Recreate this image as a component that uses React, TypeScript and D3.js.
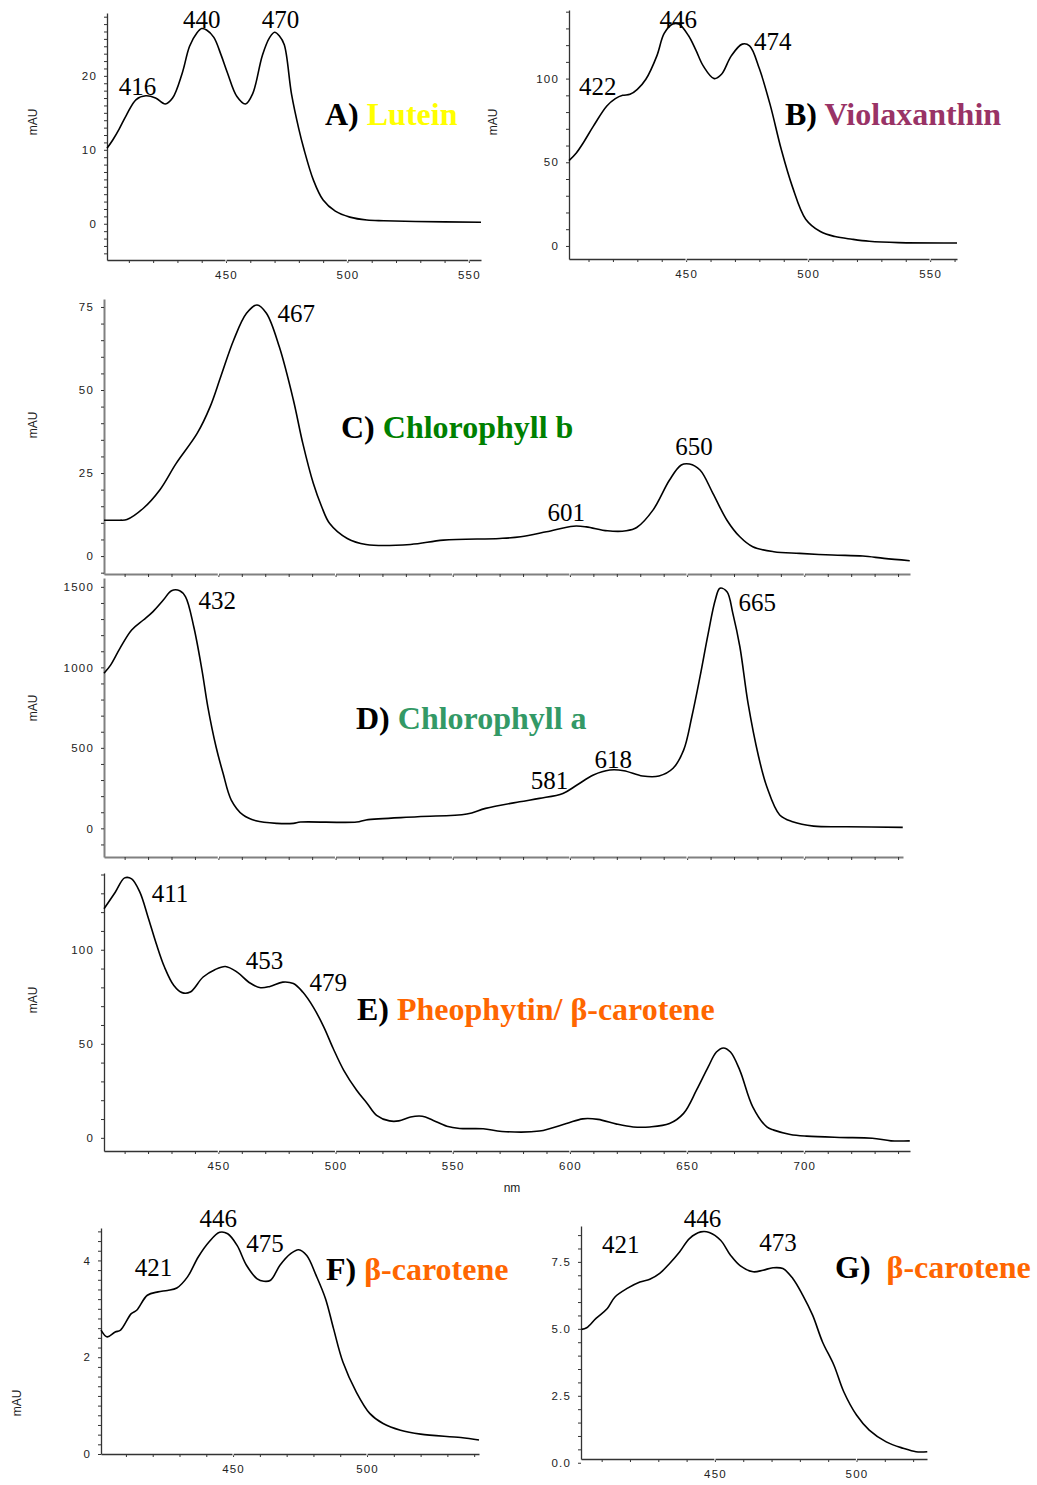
import * as d3 from 'd3'
import { useEffect, useRef } from 'react'

type Pt = [number, number]

// spectra: [wavelength nm, mAU]
const luteinSpectrum: Pt[] = [
  [401, 10.2], [403.5, 11.4], [406, 12.8], [409, 14.7], [413, 16.8], [417, 17.3], [421, 17.0],
  [425, 16.2], [428, 17.0], [432, 20.4], [435, 24.0], [438, 25.8], [440, 26.4], [442, 26.2],
  [445, 25.2], [448, 22.8], [450.5, 20.5], [454.5, 17.2], [458, 16.2], [461, 17.6], [465, 22.8],
  [468, 25.2], [470, 25.9], [472, 25.4], [474, 24.2], [477, 17.5], [480, 12.8], [482, 10.2],
  [486, 5.9], [490, 3.2], [495, 1.7], [501, 0.9], [508, 0.5], [515, 0.4], [528, 0.3], [555, 0.2]
]
const violaxanthinSpectrum: Pt[] = [
  [402, 51], [405, 55.6], [408, 62], [412, 71.6], [417.5, 83.6], [421, 88], [424, 90], [427, 90.6],
  [430, 93.6], [433.5, 99.6], [438, 113.6], [441, 127], [444.5, 132.6], [447, 132.6], [451, 125.6],
  [454, 117], [457, 107.6], [461.5, 100], [464.5, 102.6], [468.5, 113.6], [473, 120.6], [476, 119.6],
  [480, 106], [484.5, 84], [489, 57.6], [493.5, 35.6], [499, 16], [505, 8.6], [511, 5.6], [518, 4],
  [525, 2.8], [537, 2], [561, 1.8]
]
const chlorophyllBSpectrum: Pt[] = [
  [401.2, 10.8], [408, 10.8], [411, 11], [418, 14.4], [425, 19.9], [432, 27.9], [441, 37], [446.5, 45],
  [451, 54], [456.5, 65], [462, 73.1], [466.5, 75.6], [470.5, 73.1], [476, 63], [482, 47], [486, 34],
  [490.5, 21.9], [494, 15], [497.5, 9.8], [505, 5.3], [513, 3.5], [532, 3.5], [546, 4.8], [570, 5.3],
  [579, 5.8], [590, 7.3], [601.5, 9], [607, 8.8], [616, 7.6], [624, 7.6], [628.5, 8.6], [635.5, 13.9],
  [642.5, 22.9], [647.5, 27.4], [651, 27.7], [655.5, 25.9], [661, 18.9], [667, 10.8], [672.5, 5.8],
  [678, 2.8], [687, 1.3], [698, 0.8], [712, 0.3], [725, 0], [734, -0.7], [745, -1.4]
]
const chlorophyllASpectrum: Pt[] = [
  [401.2, 963], [404, 1014], [408, 1118], [413, 1232], [418, 1294], [422, 1345], [426.5, 1418],
  [430, 1476], [433.5, 1476], [436, 1438], [439.5, 1252], [443, 983], [445.5, 755], [449, 507],
  [452, 342], [455.5, 176], [460.5, 83], [466, 47], [475, 31], [482, 31], [485, 39], [509, 39],
  [513, 52], [535, 72], [556, 89], [564, 124], [578.5, 165], [587, 186], [597, 217], [603, 269],
  [610, 331], [617, 362], [623, 358], [631, 325], [638, 325], [644, 373], [648.5, 486], [652, 693],
  [655.5, 942], [659, 1211], [662, 1418], [664, 1491], [667, 1470], [669.5, 1335], [672.5, 1128],
  [676, 776], [680.5, 445], [684, 258], [689.5, 83], [695, 41], [704, 14], [718, 10], [742, 6]
]
const pheophytinSpectrum: Pt[] = [
  [401.2, 121.8], [406, 130.6], [410, 138.2], [413, 137.7], [416.5, 130.6], [420, 117.3], [423.5, 103.2],
  [427, 90.8], [431, 81], [434.5, 77.2], [438, 77.5], [443.5, 85.5], [448.5, 89.4], [453, 91.1],
  [458, 88.1], [463.5, 82.3], [468, 79.8], [472, 80.5], [477.5, 82.8], [482, 82], [486, 77.5],
  [490.5, 69.5], [495, 58.9], [499, 47.5], [503.5, 35.9], [509, 25.3], [513.5, 18.3], [517.5, 12],
  [523, 9], [527, 9], [532, 11.1], [537, 11.5], [541.5, 9.4], [547.5, 6.2], [553, 5], [563, 4.8],
  [571, 3.4], [587, 3.6], [598.5, 7.6], [605.5, 10.1], [612, 9.8], [620, 7.3], [627, 5.8], [634, 5.8],
  [642.5, 7.6], [648.5, 13], [654, 25.3], [659, 37.7], [662.5, 45.6], [665.5, 47.8], [668.5, 45.6],
  [672.5, 35.9], [678, 16.5], [684, 5.8], [687, 4.1], [694, 1.8], [701, 0.9], [715, 0.2], [729, -0.2],
  [737, -1.6], [745, -1.6]
]
const betaCaroteneFSpectrum: Pt[] = [
  [400.7, 2.56], [403, 2.42], [406, 2.52], [408, 2.56], [412, 2.9], [414, 2.97], [418, 3.28], [422, 3.35],
  [425.5, 3.38], [429, 3.43], [433, 3.66], [437, 4.07], [441, 4.38], [445, 4.58], [448, 4.55],
  [451.5, 4.31], [455, 3.9], [459, 3.62], [461.5, 3.57], [464, 3.59], [467.5, 3.9], [471.5, 4.14],
  [474.5, 4.22], [477.5, 4.1], [481, 3.69], [484.5, 3.21], [487.5, 2.59], [491, 1.9], [496, 1.28],
  [501, 0.84], [506, 0.63], [512.5, 0.49], [520, 0.41], [535, 0.34], [541.8, 0.29]
]
const betaCaroteneGSpectrum: Pt[] = [
  [402.9, 4.98], [404.7, 5.04], [408, 5.39], [412, 5.76], [414.7, 6.19], [419, 6.51], [423.5, 6.75],
  [427, 6.85], [430.5, 7.07], [434, 7.44], [437.5, 7.87], [441, 8.37], [445, 8.62], [448, 8.6],
  [452, 8.31], [455.5, 7.75], [459, 7.35], [463.5, 7.13], [467, 7.19], [470.5, 7.28], [474, 7.25],
  [477.5, 6.88], [481, 6.26], [484.5, 5.51], [488, 4.51], [492, 3.65], [495.5, 2.65], [500, 1.78],
  [504.5, 1.22], [510.5, 0.78], [516.5, 0.54], [521, 0.41], [525, 0.41]
]

// annotated maxima (nm)
const luteinPeaks = [416, 440, 470]
const violaxanthinPeaks = [422, 446, 474]
const chlorophyllBPeaks = [467, 601, 650]
const chlorophyllAPeaks = [432, 581, 618, 665]
const pheophytinPeaks = [411, 453, 479]
const betaCaroteneFPeaks = [421, 446, 475]
const betaCaroteneGPeaks = [421, 446, 473]

// tick labels
const luteinYTicks = [0, 10, 20]
const violaxanthinYTicks = [0, 50, 100]
const chlorophyllBYTicks = [0, 25, 50, 75]
const chlorophyllAYTicks = [0, 500, 1000, 1500]
const pheophytinYTicks = [0, 50, 100]
const betaCaroteneFYTicks = [0, 2, 4]
const betaCaroteneGYTicks = [0, 2.5, 5, 7.5]
const shortXTicks = [450, 500, 550]
const longXTicks = [450, 500, 550, 600, 650, 700]
const caroteneXTicks = [450, 500]

const panels = [
  { data: luteinSpectrum, peaks: luteinPeaks, off: [[-6, -10], [0, -9], [6, -13]],
    left: 107, right: 481, top: 13, bottom: 260, xDom: [401, 555], yDom: [-4.9, 28.5], yStep: 1,
    yTicks: luteinYTicks, xTicks: shortXTicks, xLabels: true, yFmt: 'd', mau: [33, 122],
    letter: 'A) ', name: 'Lutein', color: '#ffff00', tx: 325, ty: 125, axis: '#333' },
  { data: violaxanthinSpectrum, peaks: violaxanthinPeaks, off: [[-20, -11], [2, -5], [28, -3]],
    left: 569, right: 957, top: 10, bottom: 259, xDom: [402, 561], yDom: [-7.8, 141], yStep: 10,
    yTicks: violaxanthinYTicks, xTicks: shortXTicks, xLabels: true, yFmt: 'd', mau: [493, 122],
    letter: 'B) ', name: 'Violaxanthin', color: '#993366', tx: 785, ty: 125, axis: '#333' },
  { data: chlorophyllBSpectrum, peaks: chlorophyllBPeaks, off: [[38, 7], [-6, -14], [7, -18]],
    left: 104, right: 910, top: 299, bottom: 574, xDom: [401.2, 745.1], yDom: [-5.4, 77.4], yStep: 5,
    yTicks: chlorophyllBYTicks, xTicks: longXTicks, xLabels: false, yFmt: 'd', mau: [33, 425],
    letter: 'C) ', name: 'Chlorophyll b', color: '#008000', tx: 341, ty: 438, axis: '#808080' },
  { data: chlorophyllASpectrum, peaks: chlorophyllAPeaks, off: [[41, 10], [24, -20], [1, -11], [35, 13]],
    left: 104, right: 903, top: 578, bottom: 857, xDom: [401.2, 742.1], yDom: [-178, 1555], yStep: 100,
    yTicks: chlorophyllAYTicks, xTicks: longXTicks, xLabels: false, yFmt: 'd', mau: [33, 708],
    letter: 'D) ', name: 'Chlorophyll a', color: '#339966', tx: 356, ty: 729, axis: '#808080' },
  { data: pheophytinSpectrum, peaks: pheophytinPeaks, off: [[43, 15], [39, -6], [42, 0]],
    left: 104, right: 910, top: 873, bottom: 1151, xDom: [401.2, 745.1], yDom: [-7, 140.8], yStep: 10,
    yTicks: pheophytinYTicks, xTicks: longXTicks, xLabels: true, yFmt: 'd', mau: [33, 1000],
    letter: 'E) ', name: 'Pheophytin/ β-carotene', color: '#ff6600', tx: 357, ty: 1020, axis: '#333' },
  { data: betaCaroteneFSpectrum, peaks: betaCaroteneFPeaks, off: [[-2, -25], [-4, -14], [-35, -7]],
    left: 101, right: 479, top: 1228, bottom: 1454, xDom: [400.7, 541.8], yDom: [0, 4.67], yStep: 0.2,
    yTicks: betaCaroteneFYTicks, xTicks: caroteneXTicks, xLabels: true, yFmt: 'd', mau: [17, 1403],
    letter: 'F) ', name: 'β-carotene', color: '#ff6600', tx: 326, ty: 1280, axis: '#333' },
  { data: betaCaroteneGSpectrum, peaks: betaCaroteneGPeaks, off: [[-12, -41], [-1, -14], [-2, -26]],
    left: 581, right: 927, top: 1226, bottom: 1459, xDom: [402.7, 524.9], yDom: [0.14, 8.84], yStep: 0.5,
    yTicks: betaCaroteneGYTicks, xTicks: caroteneXTicks, xLabels: true, yFmt: '.1f', mau: null,
    letter: 'G)  ', name: 'β-carotene', color: '#ff6600', tx: 835, ty: 1278, axis: '#333' },
]

const stepTicks = (lo: number, hi: number, step: number) =>
  d3.range(Math.ceil(lo / step - 1e-9), Math.floor(hi / step + 1e-9) + 1).map(i => +(i * step).toFixed(4))

export default function App() {
  const ref = useRef<SVGSVGElement>(null)

  useEffect(() => {
    const svg = d3.select(ref.current)
    svg.selectAll('*').remove()

    panels.forEach(p => {
      const x = d3.scaleLinear().domain(p.xDom).range([p.left, p.right])
      const y = d3.scaleLinear().domain(p.yDom).range([p.bottom, p.top])
      const g = svg.append('g')

      const yVals = Array.from(new Set([...stepTicks(p.yDom[0], p.yDom[1], p.yStep), ...p.yTicks])).sort((a, b) => a - b)
      const fmt = d3.format(p.yFmt)
      const yAxis = g.append('g')
        .attr('transform', `translate(${p.left},0)`)
        .call(d3.axisLeft(y).tickValues(yVals).tickSize(3).tickSizeOuter(0).tickPadding(7)
          .tickFormat(d => (p.yTicks.includes(+d) ? fmt(+d) : '')))

      const xVals = stepTicks(p.xDom[0], p.xDom[1], 10)
      const xAxis = g.append('g')
        .attr('transform', `translate(0,${p.bottom})`)
        .call(d3.axisBottom(x).tickValues(xVals).tickSize(3).tickSizeOuter(0).tickPadding(8)
          .tickFormat(d => (p.xLabels && p.xTicks.includes(+d) ? String(d) : '')))

      ;[yAxis, xAxis].forEach(a => {
        a.select('.domain').attr('stroke', p.axis).attr('stroke-width', p.axis === '#808080' ? 2 : 1.3)
        a.selectAll('.tick line').attr('stroke', '#333').attr('stroke-width', 1)
        a.selectAll('.tick text')
          .attr('fill', '#222')
          .style('font-family', '"Liberation Sans", Arial, sans-serif')
          .style('font-size', '11.5px')
          .style('letter-spacing', '1.2px')
      })

      // small breaks in the axis line at each 50 nm mark
      g.append('g')
        .selectAll('line')
        .data(p.xTicks.filter(v => v > p.xDom[0] && v < p.xDom[1]))
        .join('line')
        .attr('x1', d => x(d)).attr('x2', d => x(d))
        .attr('y1', p.bottom - 1.5).attr('y2', p.bottom + 1.5)
        .attr('stroke', '#fff').attr('stroke-width', 1.2)

      const line = d3.line<Pt>().x(d => x(d[0])).y(d => y(d[1])).curve(d3.curveCatmullRom.alpha(0.5))
      g.append('path')
        .datum(p.data)
        .attr('d', line)
        .attr('fill', 'none')
        .attr('stroke', '#000')
        .attr('stroke-width', 1.6)
        .attr('stroke-linejoin', 'round')

      const bis = d3.bisector((d: Pt) => d[0]).left
      const valueAt = (nm: number) => {
        const i = Math.max(1, Math.min(p.data.length - 1, bis(p.data, nm)))
        const a = p.data[i - 1], b = p.data[i]
        return a[1] + (b[1] - a[1]) * (nm - a[0]) / (b[0] - a[0])
      }

      g.append('g')
        .selectAll('text')
        .data(p.peaks)
        .join('text')
        .attr('x', (d, i) => x(d) + p.off[i][0])
        .attr('y', (d, i) => y(valueAt(d)) + p.off[i][1] + 8.5)
        .attr('text-anchor', 'middle')
        .style('font-family', '"Liberation Serif", "Times New Roman", serif')
        .style('font-size', '25px')
        .attr('fill', '#000')
        .text(d => d)

      const title = g.append('text')
        .attr('x', p.tx).attr('y', p.ty)
        .style('font-family', '"Liberation Serif", "Times New Roman", serif')
        .style('font-size', '32px')
        .style('font-weight', 'bold')
        .style('white-space', 'pre')
      title.append('tspan').attr('fill', '#000').text(p.letter)
      title.append('tspan').attr('fill', p.color).text(p.name)

      if (p.mau) {
        g.append('text')
          .attr('transform', `translate(${p.mau[0]},${p.mau[1]}) rotate(-90)`)
          .attr('text-anchor', 'middle')
          .attr('dy', '0.35em')
          .style('font-family', '"Liberation Sans", Arial, sans-serif')
          .style('font-size', '12px')
          .attr('fill', '#222')
          .text('mAU')
      }
    })

    svg.append('text')
      .attr('x', 512).attr('y', 1192)
      .attr('text-anchor', 'middle')
      .style('font-family', '"Liberation Sans", Arial, sans-serif')
      .style('font-size', '12px')
      .attr('fill', '#222')
      .text('nm')
  }, [])

  return (
    <svg ref={ref} width={1037} height={1485}
      style={{ position: 'absolute', left: 0, top: 0, background: '#fff' }} />
  )
}
